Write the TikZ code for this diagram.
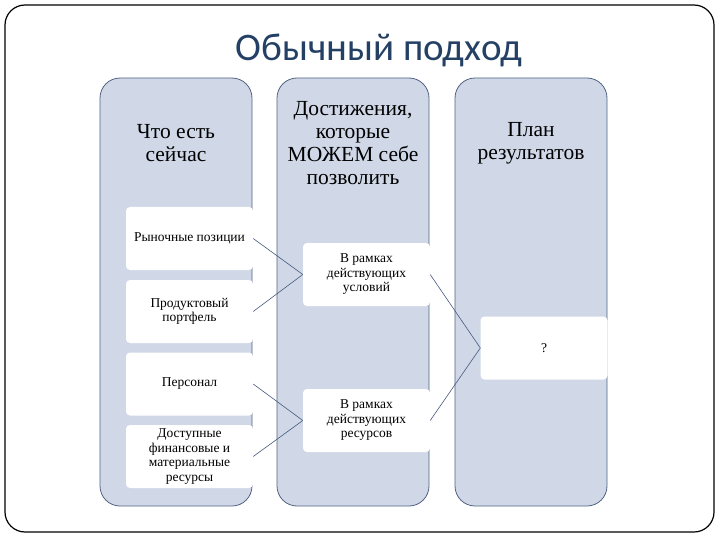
\documentclass[tikz,border=0pt]{standalone}
\usepackage{fontspec}
\setmainfont{Liberation Serif}
\newfontfamily\titlefont{Carlito}
\definecolor{colfill}{RGB}{208,216,232}
\definecolor{colline}{RGB}{80,99,130}
\definecolor{titleblue}{RGB}{36,64,100}
\definecolor{connc}{RGB}{70,90,125}
\begin{document}
\begin{tikzpicture}[x=1pt,y=-1pt,
  frame/.style={draw=black,line width=1.2pt,rounded corners=20pt},
  col/.style={draw=colline,fill=colfill,line width=0.8pt,rounded corners=20pt,minimum width=152pt,minimum height=428pt,inner sep=0pt},
  head/.style={align=center,font=\fontsize{21.5}{23}\selectfont,inner sep=0pt},
  wbox/.style={fill=white,rounded corners=4pt,minimum width=127pt,minimum height=63pt,inner sep=0pt,align=center,font=\fontsize{13.5}{14.5}\selectfont},
  conn/.style={draw=connc,line width=0.6pt}]
\useasboundingbox (0,0) rectangle (720,540);
\draw[frame] (5,5) rectangle (714,532);
\node[text=titleblue,font=\fontsize{39}{46}\titlefont,inner sep=0pt] (title) at (379,50) {Обычный подход};
\node[col] (c1) at (176,292) {};
\node[col] (c2) at (353,292) {};
\node[col] (c3) at (531,292) {};
\node[head] (h1) at (176,143) {Что есть\\сейчас};
\node[head] (h2) at (353,143) {Достижения,\\которые\\МОЖЕМ себе\\позволить};
\node[head] (h3) at (531,143) {План\\результатов};
\node[wbox] (b1) at (189.5,238.5) {Рыночные позиции};
\node[wbox] (b2) at (189.5,311.5) {Продуктовый\\портфель};
\node[wbox] (b3) at (189.5,384) {Персонал};
\node[wbox] (b4) at (189.5,456.5) {Доступные\\финансовые и\\материальные\\ресурсы};
\node[wbox] (m1) at (366.5,274.5) {В рамках\\действующих\\условий};
\node[wbox] (m2) at (366.5,420.5) {В рамках\\действующих\\ресурсов};
\node[wbox] (r1) at (544,348) {?};
\draw[conn] (b1.east) -- (m1.west);
\draw[conn] (b2.east) -- (m1.west);
\draw[conn] (b3.east) -- (m2.west);
\draw[conn] (b4.east) -- (m2.west);
\draw[conn] (m1.east) -- (r1.west);
\draw[conn] (m2.east) -- (r1.west);
\end{tikzpicture}
\end{document}
